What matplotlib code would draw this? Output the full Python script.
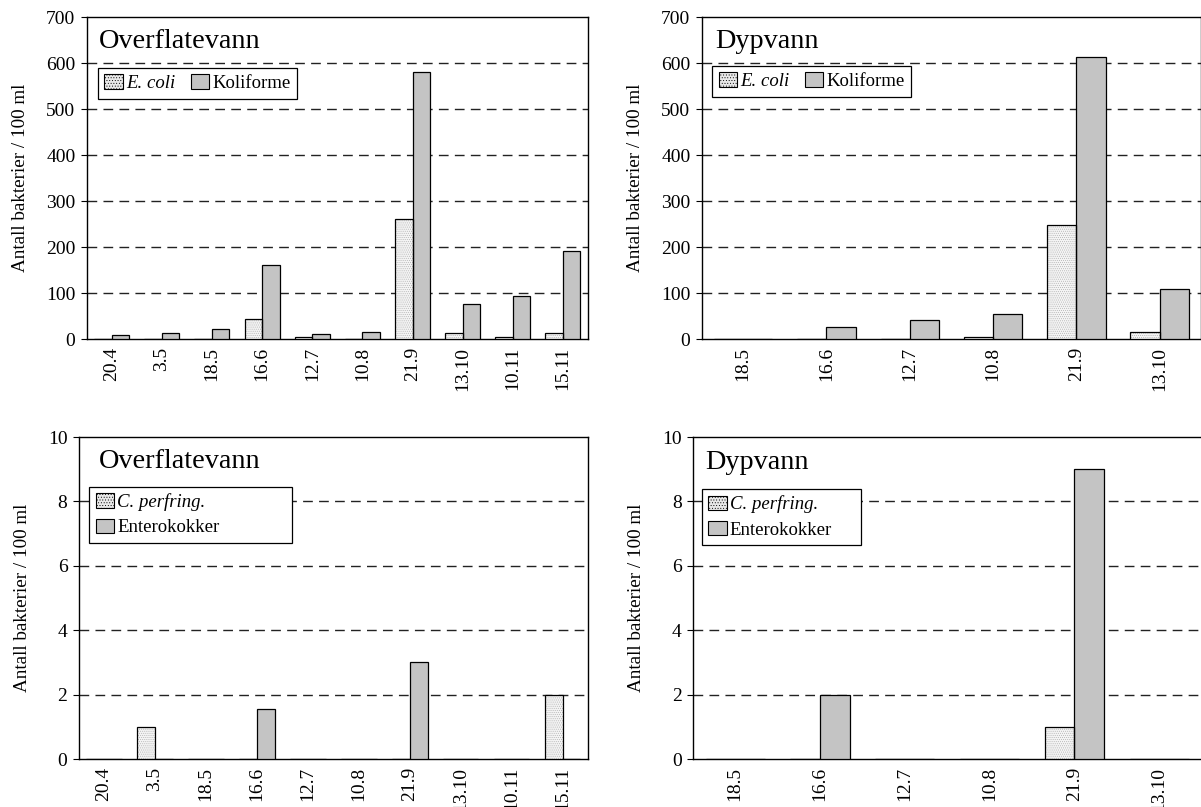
import numpy as np
import matplotlib
matplotlib.use('Agg')
import matplotlib.pyplot as plt
import matplotlib.transforms as mtransforms

plt.rcParams['font.family'] = ['Liberation Serif', 'DejaVu Serif']
plt.rcParams['hatch.linewidth'] = 0.35

### Sampling dates
dates_surface = ['20.4', '3.5', '18.5', '16.6', '12.7', '10.8', '21.9',
                 '13.10', '10.11', '15.11']
dates_deep = ['18.5', '16.6', '12.7', '10.8', '21.9', '13.10']

### Coliforms per 100 ml
ecoli_surface = [0, 0, 0, 43, 4, 0, 260, 12, 4, 12]
koli_surface = [9, 14, 22, 160, 10, 15, 580, 76, 93, 192]
ecoli_deep = [0, 0, 0, 4, 248, 16]
koli_deep = [1, 26, 41, 55, 612, 108]

### C. perfringens / enterococci per 100 ml
cperf_surface = [0, 1, 0, 0, 0, 0, 0, 0, 0, 2]
entero_surface = [0, 0, 0, 1.55, 0, 0, 3, 0, 0, 0]
cperf_deep = [0, 0, 0, 0, 1, 0]
entero_deep = [0, 2, 0, 0, 9, 0]

ylab = 'Antall bakterier / 100 ml'
W, H = 1201, 807

fig = plt.figure(figsize=(W/100, H/100), dpi=100)
nudge = mtransforms.ScaledTranslation(0.04, 0, fig.dpi_scale_trans)

def panel(box, dates, s1, s2, names, title, ymax, ystep,
          title_xy, leg_box, leg_ncol):
    l, t, r, b = box
    ax = fig.add_axes([l/W, 1 - b/H, (r - l)/W, (b - t)/H])
    # pixel positions -> axes fractions
    fx = lambda px: (px - l)/(r - l)
    fy = lambda py: (b - py)/(b - t)

    x = np.arange(len(dates))
    bw = 0.35
    # stippled fill first, black outline drawn on top
    ax.bar(x - bw/2, s1, bw, facecolor='#f4f4f4', edgecolor='#a8a8a8',
           hatch='........', linewidth=0, zorder=3)
    ax.bar(x - bw/2, s1, bw, facecolor='none', edgecolor='black',
           linewidth=0.9, zorder=4)
    ax.bar(x + bw/2, s2, bw, facecolor='#c4c4c4', edgecolor='black',
           linewidth=0.9, zorder=3)
    ax.set_xlim(-0.5, len(dates) - 0.5)
    ax.set_ylim(0, ymax)
    ax.set_yticks(np.arange(0, ymax + ystep/2, ystep))
    ax.set_xticks(x)
    ax.set_xticklabels(dates, rotation=90, fontsize=14)
    for lab in ax.get_xticklabels():
        lab.set_transform(lab.get_transform() + nudge)
    ax.tick_params(axis='x', length=0, pad=5.5)
    ax.tick_params(axis='y', length=4, direction='out', labelsize=14, pad=4)
    for yv in np.arange(ystep, ymax, ystep):
        ax.axhline(yv, color='#222222', lw=1.0, ls=(0, (7, 4.5)), zorder=1)
    for sp in ax.spines.values():
        sp.set_linewidth(1.0)
    ax.set_ylabel(ylab, fontsize=13.8, labelpad=12)
    ax.text(fx(title_xy[0]), fy(title_xy[1]), title, transform=ax.transAxes,
            fontsize=20.3, va='center', ha='left')

    # legend proxies: stippled patch and grey patch
    h1 = plt.Rectangle((0, 0), 1, 1, facecolor='#e8e8e8', edgecolor='black',
                       hatch='......', linewidth=0.8)
    h2 = plt.Rectangle((0, 0), 1, 1, facecolor='#c4c4c4', edgecolor='black',
                       linewidth=0.8)
    lx0, ly0, lx1, ly1 = leg_box
    anchor = (fx(lx0), fy(ly1), fx(lx1) - fx(lx0), fy(ly0) - fy(ly1))
    leg = ax.legend([h1, h2], names, loc='upper left', bbox_to_anchor=anchor,
                    mode='expand', ncol=leg_ncol, fontsize=13.5, frameon=True,
                    fancybox=False, edgecolor='black', framealpha=1,
                    handlelength=1.0, handleheight=0.8, handletextpad=0.15,
                    columnspacing=0.5, borderpad=0.35, labelspacing=0.4,
                    borderaxespad=0)
    leg.get_frame().set_linewidth(0.9)
    leg.get_texts()[0].set_fontstyle('italic')
    return ax

panel((86.6, 17, 588, 339), dates_surface, ecoli_surface, koli_surface,
      ['E. coli', 'Koliforme'], 'Overflatevann', 700, 100,
      (99, 41), (97.7, 67.7, 297, 95.7), 2)
panel((701.5, 17, 701.5 + 6*83.3, 339), dates_deep, ecoli_deep, koli_deep,
      ['E. coli', 'Koliforme'], 'Dypvann', 700, 100,
      (715, 42), (712, 65.7, 911, 93.3), 2)
panel((78.5, 437, 588, 759), dates_surface, cperf_surface, entero_surface,
      ['C. perfring.', 'Enterokokker'], 'Overflatevann', 10, 2,
      (99, 461), (89, 486.7, 292, 542.3), 1)
panel((692.8, 437, 692.8 + 6*84.8, 759), dates_deep, cperf_deep, entero_deep,
      ['C. perfring.', 'Enterokokker'], 'Dypvann', 10, 2,
      (705, 462), (701.6, 489, 860.6, 544.7), 1)

fig.savefig('out.png', dpi=100)
